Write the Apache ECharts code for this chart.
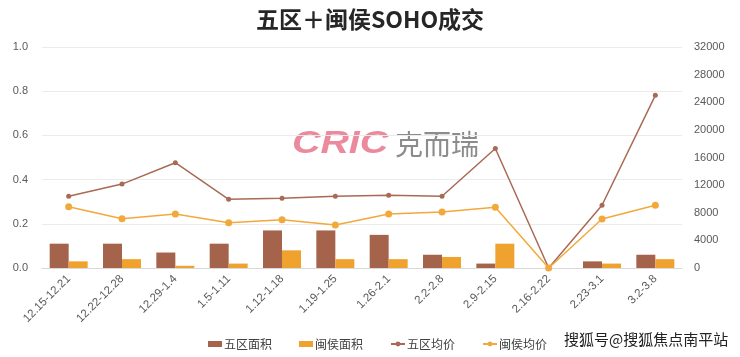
<!DOCTYPE html>
<html><head><meta charset="utf-8">
<script src="https://cdn.jsdelivr.net/npm/echarts@6/dist/echarts.min.js"></script>
<style>html,body{margin:0;padding:0;background:#fff}#c{width:740px;height:357px}</style>
</head><body><div id="c"></div>
<script>
const categories = ['12.15-12.21','12.22-12.28','12.29-1.4','1.5-1.11','1.12-1.18','1.19-1.25','1.26-2.1','2.2-2.8','2.9-2.15','2.16-2.22','2.23-3.1','3.2-3.8'];
const wuquArea = [0.11,0.11,0.07,0.11,0.17,0.17,0.15,0.06,0.02,0,0.03,0.06];
const minhouArea = [0.03,0.04,0.01,0.02,0.08,0.04,0.04,0.05,0.11,0,0.02,0.04];
const wuquPrice = [10400,12150,15250,9950,10100,10400,10550,10380,17300,0,9080,25000];
const minhouPrice = [8880,7140,7820,6560,6990,6230,7820,8110,8790,0,7100,9080];
const leftTicks = {min:0, max:1, interval:0.2};
const rightTicks = {min:0, max:32000, interval:4000};

const chart = echarts.init(document.getElementById('c'));
const lab = {color:'#595959', fontSize:11, fontFamily:'Liberation Sans, Arial, sans-serif'};
chart.setOption({
  animation:false,
  title:{text:'五区＋闽侯SOHO成交', left:'center', top:3,
    textStyle:{fontSize:23, fontWeight:'bold', color:'#262626', fontFamily:'Noto Sans CJK SC'}},
  graphic:[
    {type:'text', x:292, y:128, scaleX:1.23, style:{text:'CRIC', fill:'#EC8A9D', font:'italic bold 32px Liberation Sans', textVerticalAlign:'top'}},
    {type:'text', x:395, y:130, style:{text:'克而瑞', fill:'#8C8C8C', font:'28px Noto Sans CJK SC', textVerticalAlign:'top'}},
    {type:'text', left:564, top:332, style:{text:'搜狐号@搜狐焦点南平站', fill:'#222', font:'15px Noto Sans CJK SC'}}
  ],
  legend:{left:203, top:333, itemGap:27, itemWidth:14, itemHeight:6,
    textStyle:{color:'#404040', fontSize:12, fontFamily:'Noto Sans CJK SC', padding:[0,0,0,-3]},
    data:[
      {name:'五区面积', icon:'rect'},
      {name:'闽侯面积', icon:'rect'},
      {name:'五区均价'},
      {name:'闽侯均价'}
    ]},
  grid:{left:42, right:58, top:47, bottom:89},
  xAxis:{type:'category', data:categories,
    axisLine:{lineStyle:{color:'#D9D9D9'}}, axisTick:{show:false},
    axisLabel:Object.assign({rotate:45, interval:0, margin:9}, lab, {fontSize:11.5})},
  yAxis:[
    Object.assign({type:'value', splitLine:{lineStyle:{color:'#EBEBEB'}},
      axisLabel:Object.assign({formatter:v=>v.toFixed(1), margin:14}, lab),
      axisLine:{show:false}, axisTick:{show:false}}, leftTicks),
    Object.assign({type:'value', splitLine:{show:false},
      axisLabel:Object.assign({margin:12, formatter:v=>String(v)}, lab),
      axisLine:{show:false}, axisTick:{show:false}}, rightTicks)
  ],
  series:[
    {name:'五区面积', type:'bar', data:wuquArea, barWidth:19, barGap:'0%',
      itemStyle:{color:'#A6634B'}},
    {name:'闽侯面积', type:'bar', data:minhouArea, barWidth:19,
      itemStyle:{color:'#F0A22E'}},
    {name:'五区均价', type:'line', yAxisIndex:1, data:wuquPrice, symbol:'circle', symbolSize:5,
      lineStyle:{color:'#A96A55', width:1.5}, itemStyle:{color:'#A96A55'}},
    {name:'闽侯均价', type:'line', yAxisIndex:1, data:minhouPrice, symbol:'circle', symbolSize:7,
      lineStyle:{color:'#F2A93B', width:1.5}, itemStyle:{color:'#F2A93B'}}
  ]
});
</script></body></html>
